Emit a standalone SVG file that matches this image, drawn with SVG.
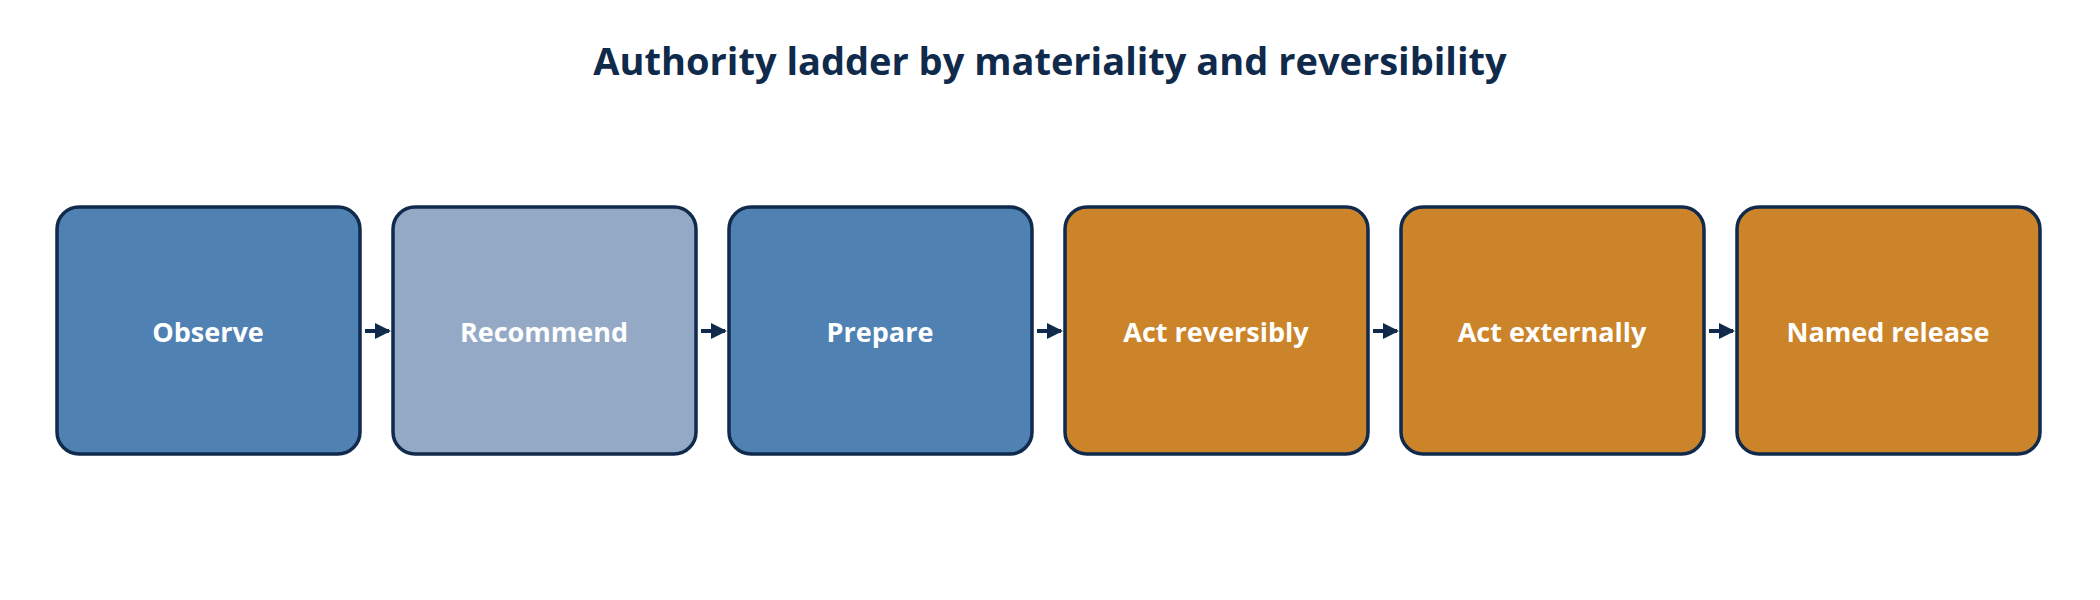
<svg xmlns="http://www.w3.org/2000/svg" width="2100" height="600" viewBox="0 0 2100 600">
<style>
.box{stroke:#0f2a4a;stroke-width:3.5}
.blue{fill:#4f81b3}.light{fill:#94a9c6}.orange{fill:#cb8429}
.lbl{font-family:"Open Sans","Noto Sans",sans-serif;font-weight:bold;font-size:27px;fill:#fff;text-anchor:middle;dominant-baseline:central}
.title{font-family:"Open Sans","Noto Sans",sans-serif;font-weight:bold;font-size:38px;fill:#102a4c;text-anchor:middle}
.conn{stroke:#0f2a4a;stroke-width:4;fill:none;marker-end:url(#ah)}
</style>
<defs><marker id="ah" markerWidth="4" markerHeight="4" refX="3.5" refY="2" orient="auto" markerUnits="strokeWidth"><path d="M0,0 L4,2 L0,4 Z" fill="#0f2a4a"/></marker></defs>
<rect width="2100" height="600" fill="#fff"/>
<text class="title" x="1050" y="75">Authority ladder by materiality and reversibility</text>
<g id="connectors">
<path class="conn" d="M365,331 H389"/><path class="conn" d="M701,331 H725"/><path class="conn" d="M1037,331 H1061"/><path class="conn" d="M1373,331 H1397"/><path class="conn" d="M1709,331 H1733"/>
</g>
<g id="observe"><rect class="box blue" x="57" y="207" width="303" height="247" rx="22"/><text class="lbl" x="208" y="331">Observe</text></g>
<g id="recommend"><rect class="box light" x="393" y="207" width="303" height="247" rx="22"/><text class="lbl" x="544" y="331">Recommend</text></g>
<g id="prepare"><rect class="box blue" x="729" y="207" width="303" height="247" rx="22"/><text class="lbl" x="880" y="331">Prepare</text></g>
<g id="act-reversibly"><rect class="box orange" x="1065" y="207" width="303" height="247" rx="22"/><text class="lbl" x="1216" y="331">Act reversibly</text></g>
<g id="act-externally"><rect class="box orange" x="1401" y="207" width="303" height="247" rx="22"/><text class="lbl" x="1552" y="331">Act externally</text></g>
<g id="named-release"><rect class="box orange" x="1737" y="207" width="303" height="247" rx="22"/><text class="lbl" x="1888" y="331">Named release</text></g>
</svg>
